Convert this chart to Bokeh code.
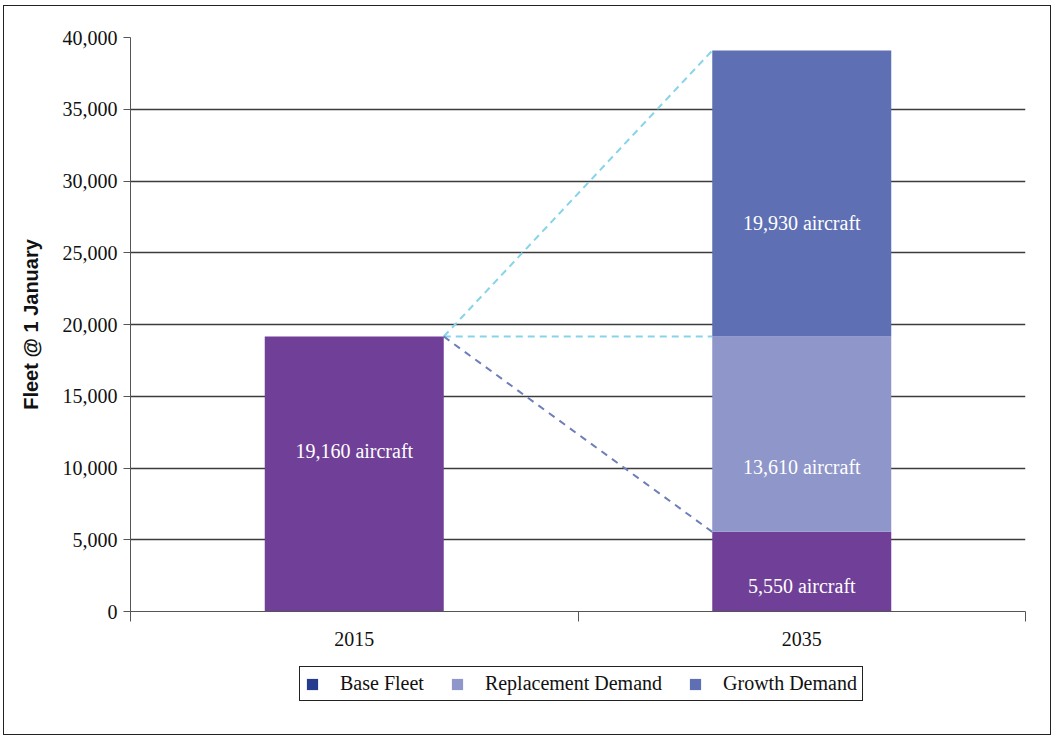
from bokeh.plotting import figure
from bokeh.layouts import column
from bokeh.models import (Range1d, FixedTicker, NumeralTickFormatter, ColumnDataSource,
                          Legend, LegendItem)
from bokeh.core.properties import value
from bokeh.embed import file_html
from bokeh.resources import INLINE

# --- data -------------------------------------------------------------
years = ["2015", "2035"]
fleet_2015 = 19160
base_fleet_2035 = 5550
replacement_2035 = 13610
growth_2035 = 19930
y_ticks = [0, 5000, 10000, 15000, 20000, 25000, 30000, 35000, 40000]
legend_labels = ["Base Fleet", "Replacement Demand", "Growth Demand"]

# --- styling ----------------------------------------------------------
PURPLE = "#703F97"
BASE_LEGEND = "#253C8E"
REPL = "#8E96CA"
GROWTH = "#5E6FB4"
CYAN = "#86D4E9"
DARK_DASH = "#6E7EB9"
SERIF = "Liberation Serif"
BAR_W = 0.4
FULL_W = 1046

xc = [i + 0.5 for i in range(len(years))]          # category centres
x15, x35 = xc

p = figure(frame_width=895, frame_height=574, output_backend="svg",
           toolbar_location=None,
           x_range=Range1d(0, len(years)), y_range=Range1d(0, 40000),
           min_border_left=126, min_border_right=25, min_border_top=31,
           min_border_bottom=45)
p.outline_line_color = None
p.background_fill_color = "white"
p.border_fill_color = "white"

# grid
p.xgrid.visible = False
p.ygrid.grid_line_color = "#3c3c3c"
p.ygrid.grid_line_width = 1.5
p.ygrid.ticker = FixedTicker(ticks=y_ticks)

# y axis
p.yaxis.ticker = FixedTicker(ticks=y_ticks)
p.yaxis.formatter = NumeralTickFormatter(format="0,0")
p.yaxis.major_tick_out = 7
p.yaxis.major_tick_in = 0
p.yaxis.minor_tick_line_color = None
p.yaxis.axis_line_color = "#555555"
p.yaxis.major_tick_line_color = "#555555"
p.yaxis.major_label_text_font = SERIF
p.yaxis.major_label_text_font_size = "20px"
p.yaxis.major_label_text_color = "#111111"
p.yaxis.major_label_standoff = 6
p.yaxis.axis_label = "Fleet @ 1 January"
p.yaxis.axis_label_text_font = "Liberation Sans"
p.yaxis.axis_label_text_font_style = "bold"
p.yaxis.axis_label_text_font_size = "20px"
p.yaxis.axis_label_text_color = "#111111"
p.yaxis.axis_label_standoff = 18

# x axis: labels at centres, ticks at category boundaries
p.xaxis.ticker = FixedTicker(ticks=xc, minor_ticks=list(range(len(years) + 1)))
p.xaxis.major_label_overrides = {x: y for x, y in zip(xc, years)}
p.xaxis.major_tick_line_color = None
p.xaxis.major_tick_out = 10
p.xaxis.minor_tick_out = 10
p.xaxis.minor_tick_in = 0
p.xaxis.minor_tick_line_color = "#555555"
p.xaxis.axis_line_color = "#555555"
p.xaxis.major_label_text_font = SERIF
p.xaxis.major_label_text_font_size = "20px"
p.xaxis.major_label_text_color = "#111111"
p.xaxis.major_label_standoff = 10

# connector lines from the 2015 fleet to the 2035 components
right15 = x15 + BAR_W / 2
left35 = x35 - BAR_W / 2
total_2035 = base_fleet_2035 + replacement_2035 + growth_2035
p.line([right15, left35], [fleet_2015, total_2035], line_color=CYAN,
       line_width=2, line_dash="7 5")
p.line([right15, left35], [fleet_2015, base_fleet_2035 + replacement_2035],
       line_color=CYAN, line_width=2, line_dash="7 5")
p.line([right15, left35], [fleet_2015, base_fleet_2035], line_color=DARK_DASH,
       line_width=2, line_dash="7 6")

# bars
p.vbar(x=[x15], bottom=[0], top=[fleet_2015], width=BAR_W,
       fill_color=PURPLE, line_color=None)
b0 = 0
b1 = base_fleet_2035
b2 = base_fleet_2035 + replacement_2035
p.vbar(x=[x35], bottom=[b0], top=[b1], width=BAR_W, fill_color=PURPLE, line_color=None)
p.vbar(x=[x35], bottom=[b1], top=[b2], width=BAR_W, fill_color=REPL, line_color=None)
p.vbar(x=[x35], bottom=[b2], top=[b2 + growth_2035], width=BAR_W,
       fill_color=GROWTH, line_color=None)

# value labels inside the bars
label_values = [fleet_2015, base_fleet_2035, replacement_2035, growth_2035]
label_x = [x15, x35, x35, x35]
label_y = [11150, 1810, 10100, 27100]   # vertical placement of each caption
p.text(x=label_x, y=label_y,
       text=[f"{v:,} aircraft" for v in label_values],
       text_color="white", text_font=value(SERIF), text_font_size="20px",
       text_align="center", text_baseline="middle")

# --- legend strip under the chart --------------------------------------
lf = figure(width=FULL_W, height=78, output_backend="svg", toolbar_location=None,
            x_range=Range1d(0, 1), y_range=Range1d(0, 1),
            x_axis_location=None, y_axis_location=None,
            min_border=0, min_border_left=0, min_border_right=0,
            min_border_top=0, min_border_bottom=0)
lf.grid.visible = False
lf.outline_line_color = None
lf.background_fill_color = "white"
lf.border_fill_color = "white"

# swatch holders: no visible geometry, only their fill is shown in the legend
nan = float("nan")
swatches = []
for colour in [BASE_LEGEND, REPL, GROWTH]:
    swatches.append(lf.vbar(x="x", top="top", width=0.1,
                            source=ColumnDataSource(dict(x=[nan], top=[nan])),
                            fill_color=colour, line_color=None))

legend = Legend(items=[LegendItem(label=lab, renderers=[r])
                       for lab, r in zip(legend_labels, swatches)],
                orientation="horizontal", location=(169, 33),
                glyph_width=14, glyph_height=14, label_standoff=21, spacing=26,
                padding=5, margin=0,
                label_text_font=SERIF, label_text_font_size="20px",
                label_text_color="#111111",
                border_line_color="#222222", border_line_width=1.5,
                border_line_alpha=1.0,
                background_fill_color="white", background_fill_alpha=1)
lf.add_layout(legend, "center")

page = column(p, lf, spacing=0)
page.margin = (5, 0, 0, 3)
page.styles = {"border": "1px solid #222"}

open("out.html", "w").write(file_html(page, INLINE))
